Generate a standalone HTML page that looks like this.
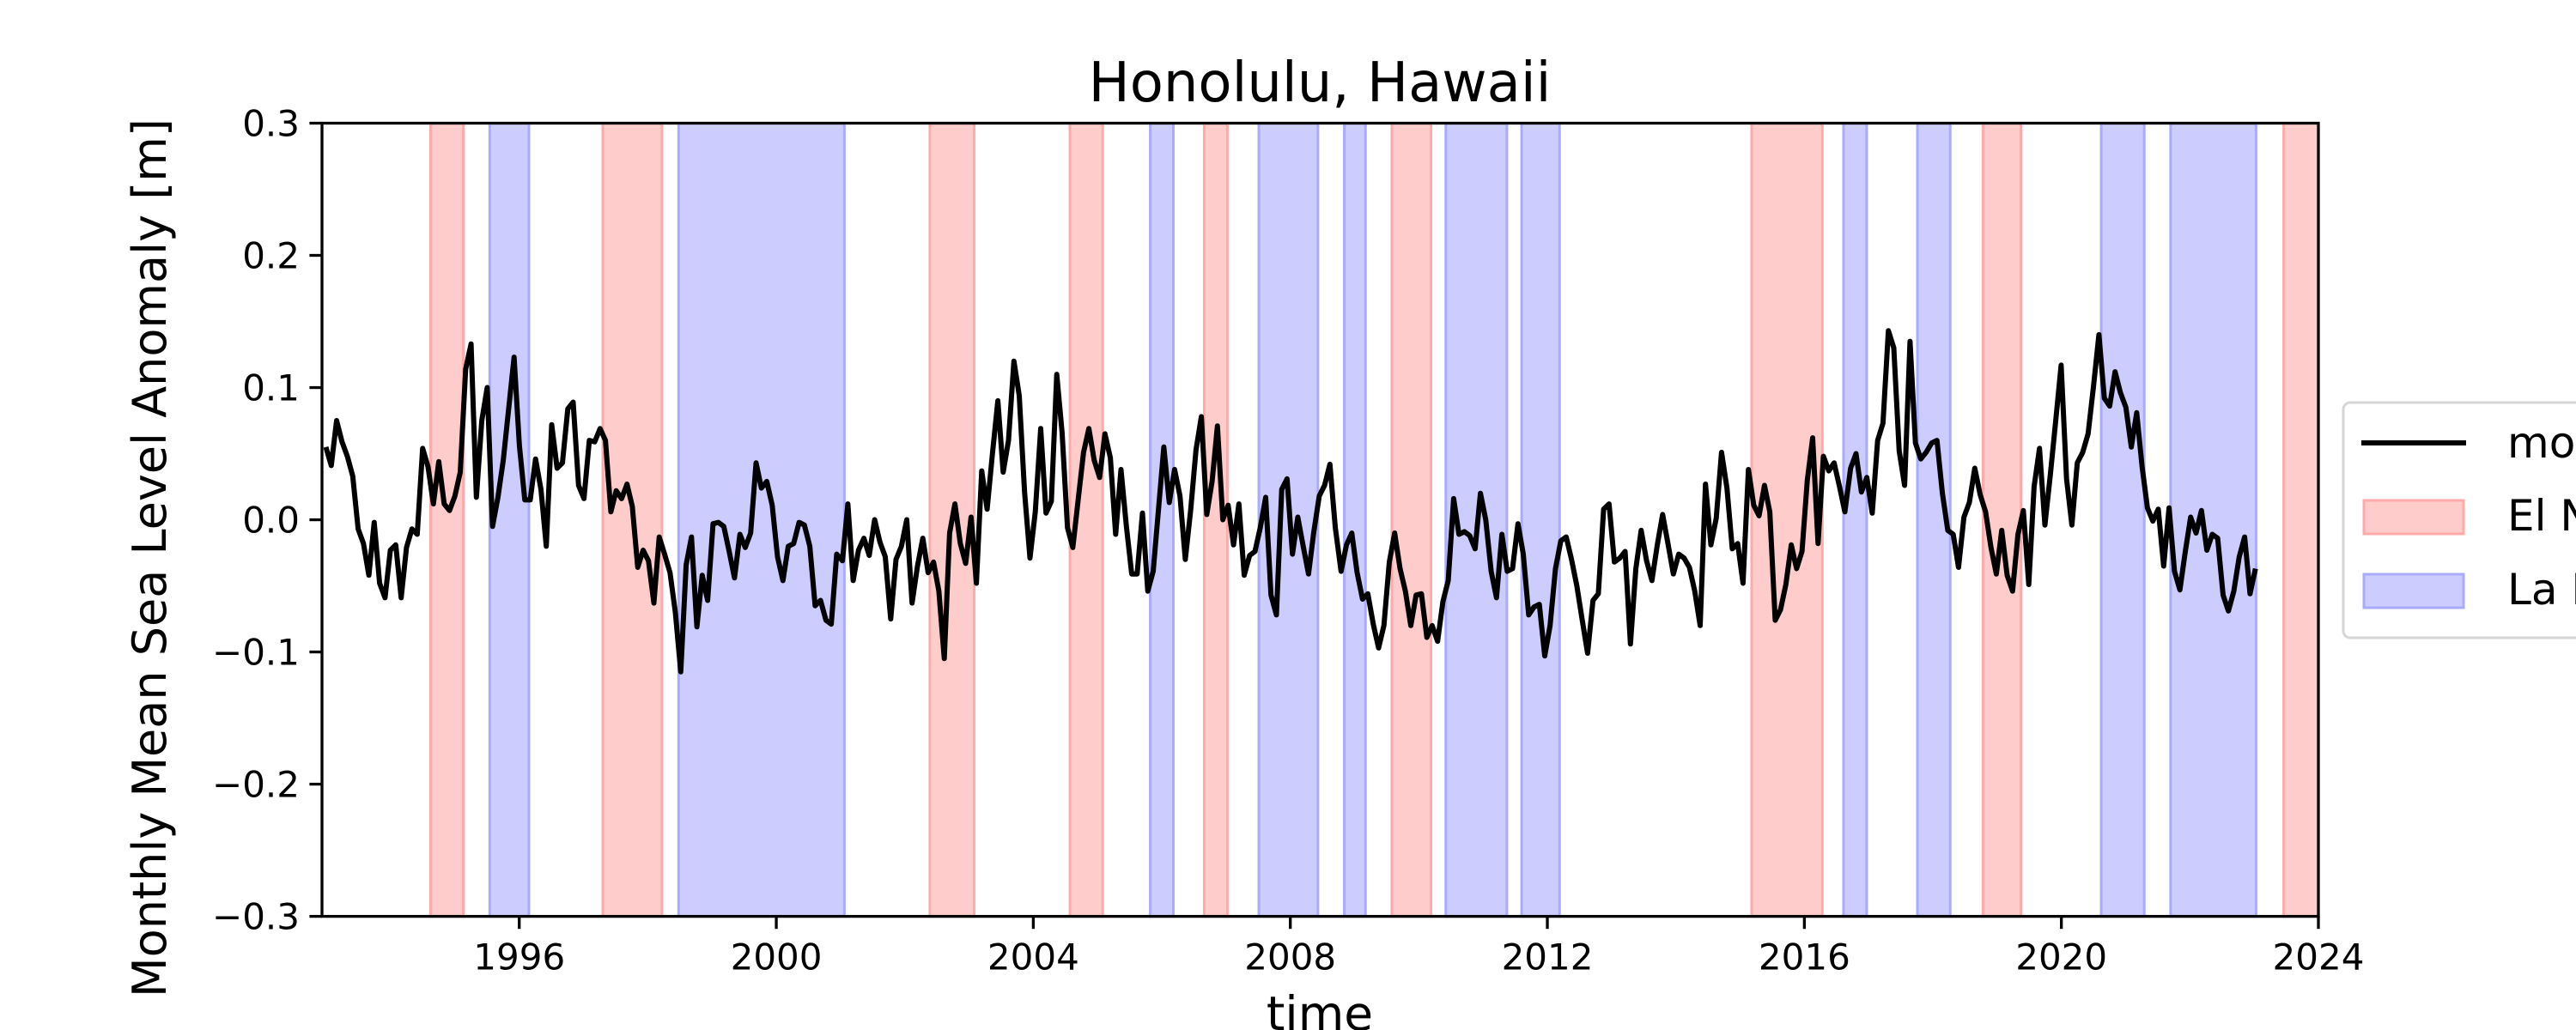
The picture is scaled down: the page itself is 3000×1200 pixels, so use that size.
<!DOCTYPE html>
<html><head><meta charset="utf-8"><style>
html,body{margin:0;padding:0;background:#fff;}
svg{display:block;font-family:"DejaVu Sans","Liberation Sans",sans-serif;}
</style></head><body>
<svg id="chart" width="3000" height="1200" viewBox="0 0 3000 1200" xmlns="http://www.w3.org/2000/svg">
<rect x="0" y="0" width="3000" height="1200" fill="#fff"/>
<g id="bands"></g>
<g id="series"></g>
<g id="axes"></g>
<text x="1537" y="118" font-size="64" text-anchor="middle">Honolulu, Hawaii</text>
<text x="1537" y="1200" font-size="55" text-anchor="middle">time</text>
<text x="0" y="0" font-size="54" text-anchor="middle" transform="translate(193,650) rotate(-90)">Monthly Mean Sea Level Anomaly [m]</text>
<g>
<rect x="2729" y="469" width="320" height="274" rx="8" fill="#fff" stroke="#d6d6d6" stroke-width="3"/>
<line x1="2750" y1="516" x2="2872" y2="516" stroke="#000" stroke-width="6"/>
<text x="2920" y="533" font-size="50">monthly</text>
<rect x="2753" y="583" width="116" height="39" fill="rgb(255,204,204)" stroke="rgb(255,170,170)" stroke-width="3"/>
<text x="2920" y="618" font-size="50">El Niño</text>
<rect x="2753" y="669" width="116" height="39" fill="rgb(204,204,255)" stroke="rgb(170,170,255)" stroke-width="3"/>
<text x="2920" y="704" font-size="50">La Niña</text>
</g>
</svg>
<script>
// ---- data ----
const elNinoStarts = [1994.62,1997.30,2002.39,2004.57,2006.66,2009.58,2015.18,2018.78,2023.46];
const elNinoEnds   = [1995.13,1998.22,2003.08,2005.08,2007.02,2010.19,2016.28,2019.37,2024.00];
const laNinaStarts = [1995.54,1998.48,2005.82,2007.51,2008.84,2010.42,2011.60,2016.61,2017.76,2020.62,2021.70];
const laNinaEnds   = [1996.15,2001.06,2006.18,2008.43,2009.17,2011.37,2012.19,2016.97,2018.27,2021.29,2023.03];

const seg1Start = 1992.99, seg1End = 2000.94;
const seg1Values = [0.055,0.041,0.075,0.059,0.048,0.033,-0.007,-0.018,-0.042,-0.002,-0.048,-0.059,-0.023,-0.019,-0.059,-0.021,-0.007,-0.011,0.054,0.040,0.012,0.044,0.012,0.007,0.018,0.036,0.114,0.133,0.017,0.075,0.100,-0.005,0.017,0.045,0.084,0.123,0.056,0.015,0.015,0.046,0.023,-0.020,0.072,0.039,0.043,0.084,0.089,0.026,0.016,0.060,0.059,0.069,0.060,0.006,0.022,0.016,0.027,0.010,-0.036,-0.023,-0.031,-0.063,-0.013,-0.026,-0.040,-0.070,-0.115,-0.034,-0.013,-0.081,-0.042,-0.061,-0.003,-0.002,-0.005,-0.024,-0.044,-0.011,-0.021,-0.010,0.043,0.024,0.029,0.011,-0.028,-0.046,-0.020,-0.018,-0.002,-0.004,-0.020,-0.065,-0.061,-0.076,-0.079,-0.026];
const seg2Start = 2001.03, seg2End = 2008.70;
const seg2Values = [-0.031,0.012,-0.046,-0.023,-0.014,-0.027,0.000,-0.017,-0.028,-0.075,-0.030,-0.020,0.000,-0.063,-0.035,-0.014,-0.040,-0.032,-0.054,-0.105,-0.010,0.012,-0.018,-0.033,0.002,-0.048,0.037,0.008,0.050,0.090,0.036,0.060,0.120,0.094,0.021,-0.029,0.006,0.069,0.005,0.014,0.110,0.066,-0.006,-0.021,0.015,0.051,0.069,0.045,0.032,0.065,0.047,-0.011,0.038,-0.005,-0.041,-0.041,0.005,-0.054,-0.039,0.008,0.055,0.013,0.038,0.018,-0.030,0.007,0.053,0.078,0.004,0.029,0.071,0.000,0.011,-0.019,0.012,-0.042,-0.027,-0.024,-0.006,0.017,-0.057,-0.072,0.023,0.031,-0.026,0.002,-0.020,-0.041,-0.009,0.018,0.026,0.042,-0.006];
const seg3Start = 2008.79, seg3End = 2016.63;
const seg3Values = [-0.039,-0.019,-0.010,-0.040,-0.060,-0.056,-0.079,-0.097,-0.080,-0.032,-0.010,-0.037,-0.054,-0.080,-0.057,-0.056,-0.089,-0.080,-0.092,-0.062,-0.046,0.016,-0.011,-0.009,-0.012,-0.022,0.020,0.000,-0.039,-0.059,-0.011,-0.039,-0.037,-0.003,-0.026,-0.072,-0.066,-0.064,-0.103,-0.080,-0.037,-0.016,-0.013,-0.030,-0.050,-0.076,-0.101,-0.061,-0.056,0.008,0.012,-0.032,-0.029,-0.024,-0.094,-0.037,-0.008,-0.031,-0.046,-0.019,0.004,-0.018,-0.041,-0.026,-0.029,-0.036,-0.054,-0.080,0.027,-0.019,0.001,0.051,0.024,-0.022,-0.018,-0.048,0.038,0.011,0.003,0.026,0.006,-0.076,-0.068,-0.049,-0.019,-0.037,-0.024,0.030,0.062,-0.018,0.048,0.037,0.043,0.025,0.006];
const seg4Start = 2016.72, seg4End = 2023.02;
const seg4Values = [0.039,0.050,0.021,0.032,0.005,0.060,0.073,0.143,0.130,0.052,0.026,0.135,0.058,0.046,0.051,0.058,0.060,0.020,-0.008,-0.011,-0.036,0.002,0.013,0.039,0.019,0.006,-0.021,-0.041,-0.008,-0.042,-0.054,-0.011,0.007,-0.049,0.025,0.054,-0.004,0.034,0.075,0.117,0.031,-0.004,0.043,0.051,0.065,0.101,0.140,0.092,0.086,0.112,0.096,0.085,0.055,0.081,0.040,0.009,-0.001,0.008,-0.035,0.009,-0.039,-0.053,-0.024,0.002,-0.010,0.007,-0.023,-0.011,-0.014,-0.057,-0.069,-0.054,-0.028,-0.013,-0.056,-0.037];

const xTicks = [1996,2000,2004,2008,2012,2016,2020,2024];
const yTicks = [-0.3,-0.2,-0.1,0.0,0.1,0.2,0.3];
const xDomain = [1992.93, 2024.0];
const yDomain = [-0.3, 0.3];

// ---- layout ----
const L=375, R=2700, T=143.5, B=1067.6;
const NS="http://www.w3.org/2000/svg";
function xs(v){return L+(v-xDomain[0])/(xDomain[1]-xDomain[0])*(R-L);}
function ys(v){return B-(v-yDomain[0])/(yDomain[1]-yDomain[0])*(B-T);}
function mk(tag,attrs,parent){const e=document.createElementNS(NS,tag);for(const k in attrs)e.setAttribute(k,attrs[k]);parent.appendChild(e);return e;}

const bands=document.getElementById('bands');
for(let i=0;i<elNinoStarts.length;i++){
  const r=mk('rect',{x:xs(elNinoStarts[i]),y:T,width:xs(elNinoEnds[i])-xs(elNinoStarts[i]),height:B-T,fill:'rgb(255,204,204)',stroke:'rgb(255,170,170)','stroke-width':3},bands);
  
  
}
for(let i=0;i<laNinaStarts.length;i++){
  const r=mk('rect',{x:xs(laNinaStarts[i]),y:T,width:xs(laNinaEnds[i])-xs(laNinaStarts[i]),height:B-T,fill:'rgb(204,204,255)',stroke:'rgb(170,170,255)','stroke-width':3},bands);
  
  
}

// series
const segs=[[seg1Start,seg1End,seg1Values],[seg2Start,seg2End,seg2Values],[seg3Start,seg3End,seg3Values],[seg4Start,seg4End,seg4Values]];
const pts=[];
segs.forEach(s=>{const n=s[2].length;s[2].forEach((v,i)=>{const t=s[0]+(s[1]-s[0])*i/(n-1);pts.push(xs(t).toFixed(1)+','+ys(v).toFixed(1));});});
const line=mk('polyline',{points:pts.join(' '),fill:'none',stroke:'#000','stroke-width':6,'stroke-linejoin':'round'},document.getElementById('series'));



// axes
const ax=document.getElementById('axes');
const frame=mk('rect',{x:L,y:T,width:R-L,height:B-T,fill:'none',stroke:'#000','stroke-width':3.3},ax);


xTicks.forEach(t=>{
  const x=xs(t);
  const tk=mk('line',{x1:x,y1:B,x2:x,y2:B+14.6,stroke:'#000','stroke-width':3.3},ax);
  
  
  const lb=mk('text',{x:x,y:B+62,'font-size':42,'text-anchor':'middle'},ax);
  lb.textContent=String(t);
  
  
});
yTicks.forEach(t=>{
  const y=ys(t);
  const tk=mk('line',{x1:L-14.6,y1:y,x2:L,y2:y,stroke:'#000','stroke-width':3.3},ax);
  
  
  const lb=mk('text',{x:L-26,y:y+15,'font-size':42,'text-anchor':'end'},ax);
  lb.textContent=(t<0?'\u2212':'')+Math.abs(t).toFixed(1);
  
  
});
</script>
</body></html>
